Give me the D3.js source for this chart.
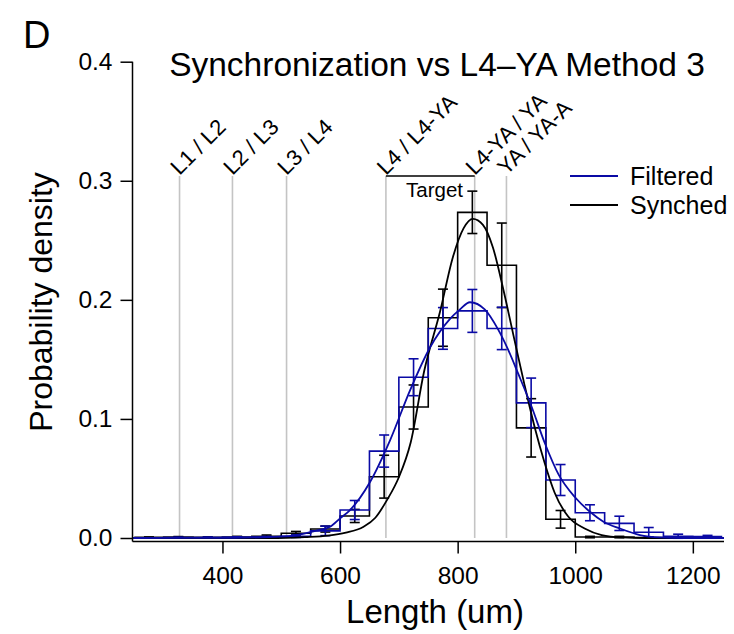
<!DOCTYPE html>
<html>
<head>
<meta charset="utf-8">
<script src="https://cdn.jsdelivr.net/npm/d3@7/dist/d3.min.js"></script>
<style>
  body { margin: 0; background: #fff; }
  svg { font-family: 'Liberation Sans', Arial, Helvetica, sans-serif; }
</style>
</head>
<body>
<svg width="734" height="634"></svg>
<script>
/* global d3 */

// histogram bins (left edges, um), 50 um wide
const binStarts = [250, 300, 350, 400, 450, 500, 550, 600, 650, 700, 750, 800, 850, 900, 950, 1000, 1050, 1100, 1150, 1200];
const binWidth = 50;

const synchedDensity = [0.0005, 0.0007, 0.0005, 0.0008, 0.0015, 0.004, 0.0075, 0.0185, 0.0515, 0.110, 0.185, 0.2735, 0.229, 0.0925, 0.0157, 0.0008, 0.0008, 0.0004, 0.0002, 0.0002];
const synchedError = [0.0004, 0.0005, 0.0004, 0.0006, 0.001, 0.0015, 0.0025, 0.0055, 0.018, 0.0185, 0.024, 0.0178, 0.0355, 0.0245, 0.0074, 0.0006, 0.0006, 0.0004, 0.0002, 0.0002];

const filteredDensity = [0, 0.0003, 0.0004, 0.0006, 0.0008, 0.0015, 0.006, 0.0235, 0.073, 0.135, 0.176, 0.1907, 0.176, 0.1135, 0.0487, 0.0212, 0.0123, 0.0048, 0.0015, 0.0012];
const filteredError = [0, 0.0003, 0.0003, 0.0004, 0.0005, 0.001, 0.004, 0.008, 0.0135, 0.0155, 0.0175, 0.018, 0.0178, 0.0208, 0.013, 0.0067, 0.006, 0.004, 0.0017, 0.001];

// fitted curves as [length, density]
const synchedFit = [[247, 0], [480, 0], [540, 0.0008], [580, 0.002], [610, 0.0045], [640, 0.0095], [660, 0.017], [680, 0.032], [700, 0.051], [720, 0.08], [743, 0.14], [770, 0.19], [792, 0.236], [810, 0.26], [826, 0.268], [843, 0.263], [860, 0.244], [878, 0.208], [895, 0.17], [914, 0.128], [931, 0.093], [948, 0.063], [965, 0.038], [988, 0.018], [1016, 0.008], [1045, 0.0025], [1080, 0.0005], [1120, 0], [1253, 0]];
const filteredFit = [[247, 0], [420, 0.0002], [480, 0.0008], [520, 0.002], [560, 0.0062], [583, 0.0095], [600, 0.0165], [617, 0.0235], [651, 0.047], [685, 0.082], [719, 0.124], [753, 0.16], [787, 0.184], [804, 0.192], [821, 0.198], [846, 0.192], [869, 0.175], [886, 0.158], [903, 0.138], [926, 0.11], [948, 0.08], [972, 0.053], [1000, 0.034], [1025, 0.022], [1048, 0.0137], [1076, 0.008], [1110, 0.0025], [1144, 0.0005], [1180, 0], [1253, 0]];

// stage boundaries (um)
const stageNames = ['L1 / L2', 'L2 / L3', 'L3 / L4', 'L4 / L4-YA', 'L4-YA / YA', 'YA / YA-A'];
const stageLengths = [327, 417, 509, 678, 829, 883];
const targetRange = [678, 829];

const xTicks = [400, 600, 800, 1000, 1200];
const yTicks = [0, 0.1, 0.2, 0.3, 0.4];

const BLUE = '#0a0aa5';

const svg = d3.select('svg');

const x = d3.scaleLinear().domain([247, 1253]).range([132.5, 724]);
const y = d3.scaleLinear().domain([0, 0.4]).range([538, 61.7]);
const axisY = 541.5;

// panel letter + title
svg.append('text')
  .attr('x', 23).attr('y', 48)
  .attr('font-size', 38)
  .text('D');

svg.append('text')
  .attr('x', 437).attr('y', 76)
  .attr('text-anchor', 'middle')
  .attr('font-size', 33.5)
  .text('Synchronization vs L4\u2013YA Method 3');

// stage lines
const stageTop = 176;
const stages = svg.append('g').attr('class', 'stages')
  .selectAll('g')
  .data(stageNames.map((name, i) => ({name, len: stageLengths[i]})))
  .enter()
  .append('g');

stages.append('line')
  .attr('x1', d => x(d.len)).attr('x2', d => x(d.len))
  .attr('y1', stageTop).attr('y2', y(0))
  .attr('stroke', '#c4c4c4')
  .attr('stroke-width', 1.6);

stages.append('text')
  .attr('transform', d => `translate(${x(d.len)},${stageTop}) rotate(-45)`)
  .attr('font-size', 22)
  .text(d => d.name);

// target bracket
svg.append('line')
  .attr('x1', x(targetRange[0])).attr('x2', x(targetRange[1]))
  .attr('y1', stageTop).attr('y2', stageTop)
  .attr('stroke', '#000').attr('stroke-width', 1.5);

svg.append('text')
  .attr('x', 463).attr('y', 197)
  .attr('text-anchor', 'end')
  .attr('font-size', 20.5)
  .text('Target');

// histograms
const stepLine = d3.line()
  .x(d => x(d[0]))
  .y(d => y(d[1]))
  .curve(d3.curveStepAfter);

const drawHist = (values, errors, color) => {
  const pts = binStarts.map((b, i) => [b, values[i]]);
  pts.push([binStarts[binStarts.length - 1] + binWidth, values[values.length - 1]]);
  svg.append('path')
    .attr('d', stepLine(pts))
    .attr('fill', 'none')
    .attr('stroke', color)
    .attr('stroke-width', 1.6);

  const bars = svg.append('g')
    .attr('stroke', color)
    .attr('stroke-width', 1.6)
    .selectAll('g')
    .data(binStarts.map((b, i) => ({c: b + binWidth / 2, v: values[i], e: errors[i]})))
    .enter()
    .append('g');
  bars.append('line')
    .attr('x1', d => x(d.c)).attr('x2', d => x(d.c))
    .attr('y1', d => y(d.v - d.e)).attr('y2', d => y(d.v + d.e));
  [-1, 1].forEach(s => {
    bars.append('line')
      .attr('x1', d => x(d.c) - 5).attr('x2', d => x(d.c) + 5)
      .attr('y1', d => y(d.v + s * d.e)).attr('y2', d => y(d.v + s * d.e));
  });
};

drawHist(synchedDensity, synchedError, '#000');
drawHist(filteredDensity, filteredError, BLUE);

// fits
const fitLine = d3.line()
  .x(d => x(d[0]))
  .y(d => y(d[1]))
  .curve(d3.curveMonotoneX);

svg.append('path')
  .attr('d', fitLine(synchedFit))
  .attr('fill', 'none')
  .attr('stroke', '#000')
  .attr('stroke-width', 1.8);

svg.append('path')
  .attr('d', fitLine(filteredFit))
  .attr('fill', 'none')
  .attr('stroke', BLUE)
  .attr('stroke-width', 1.8);

// axes
const xAxis = svg.append('g')
  .attr('transform', `translate(0,${axisY})`)
  .call(d3.axisBottom(x).tickValues(xTicks).tickSize(12).tickPadding(13).tickFormat(d3.format('d')));
xAxis.select('.domain').attr('d', `M${x.range()[0]},0H${x.range()[1]}`);

const yAxis = svg.append('g')
  .attr('transform', `translate(${x.range()[0]},0)`)
  .call(d3.axisLeft(y).tickValues(yTicks).tickSize(12).tickPadding(8).tickFormat(d3.format('.1f')));
yAxis.select('.domain').attr('d', `M0,${y(0.4)}V${axisY}`);

[xAxis, yAxis].forEach(a => {
  a.selectAll('path, line').attr('stroke', '#000').attr('stroke-width', 1.5);
  a.selectAll('text')
    .attr('font-size', 24.5)
    .attr('font-family', "'Liberation Sans', Arial, sans-serif")
    .attr('fill', '#000');
});

svg.append('text')
  .attr('x', 435).attr('y', 623)
  .attr('text-anchor', 'middle')
  .attr('font-size', 33)
  .text('Length (um)');

svg.append('text')
  .attr('transform', 'translate(52,302) rotate(-90)')
  .attr('text-anchor', 'middle')
  .attr('font-size', 32)
  .text('Probability density');

// legend
const legend = svg.append('g').attr('class', 'legend');
[['Filtered', BLUE, 176], ['Synched', '#000', 205]].forEach(([label, color, ly]) => {
  legend.append('line')
    .attr('x1', 570).attr('x2', 618)
    .attr('y1', ly).attr('y2', ly)
    .attr('stroke', color).attr('stroke-width', 1.8);
  legend.append('text')
    .attr('x', 630).attr('y', ly + 9)
    .attr('font-size', 25)
    .text(label);
});
</script>
</body>
</html>
